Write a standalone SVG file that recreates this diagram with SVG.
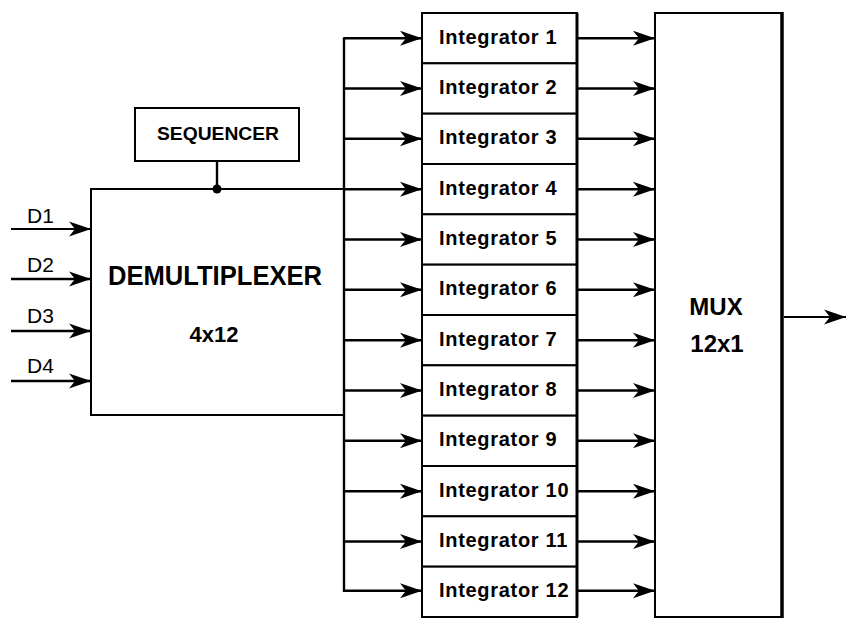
<svg xmlns="http://www.w3.org/2000/svg" width="847" height="619" viewBox="0 0 847 619">
<style>
.box{fill:#fff;stroke:#000;stroke-width:2}
.ln{fill:none;stroke:#000;stroke-width:2.4}
.lbl{font-family:"Liberation Sans",Arial,sans-serif;font-weight:bold;font-size:20px;letter-spacing:0.7px;fill:#000}
.d{font-family:"Liberation Sans",Arial,sans-serif;font-size:21px;fill:#000}
.big{font-family:"Liberation Sans",Arial,sans-serif;font-weight:bold;fill:#000;text-anchor:middle}
</style>
<defs>
<marker id="ah" markerUnits="userSpaceOnUse" markerWidth="23" markerHeight="16" refX="22" refY="8" orient="auto" viewBox="0 0 23 16">
<path d="M22,8 L0,0.5 L6,8 L0,15.5 Z" fill="#000"/>
</marker>
</defs>
<rect width="847" height="619" fill="#fff"/>

<g id="inputs-labels">
<text class="d" x="27" y="223">D1</text>
<text class="d" x="27" y="272">D2</text>
<text class="d" x="27" y="323">D3</text>
<text class="d" x="27" y="373">D4</text>
</g>

<g id="sequencer">
<rect class="box" x="135" y="108" width="164" height="53"/>
<text class="big" x="218" y="140" font-size="19" textLength="122" lengthAdjust="spacingAndGlyphs">SEQUENCER</text>
</g>

<g id="demux">
<rect class="box" x="91" y="189" width="253" height="226"/>
<text class="big" x="215" y="285" font-size="27" textLength="214" lengthAdjust="spacingAndGlyphs">DEMULTIPLEXER</text>
<text class="big" x="214" y="342" font-size="22">4x12</text>
</g>

<g id="integrator-1"><rect class="box" x="422" y="13" width="155" height="50.33"/><text class="lbl" x="439" y="43.7">Integrator 1</text></g>
<g id="integrator-2"><rect class="box" x="422" y="63.33" width="155" height="50.33"/><text class="lbl" x="439" y="94">Integrator 2</text></g>
<g id="integrator-3"><rect class="box" x="422" y="113.67" width="155" height="50.33"/><text class="lbl" x="439" y="144.3">Integrator 3</text></g>
<g id="integrator-4"><rect class="box" x="422" y="164" width="155" height="50.33"/><text class="lbl" x="439" y="194.7">Integrator 4</text></g>
<g id="integrator-5"><rect class="box" x="422" y="214.33" width="155" height="50.33"/><text class="lbl" x="439" y="245">Integrator 5</text></g>
<g id="integrator-6"><rect class="box" x="422" y="264.67" width="155" height="50.33"/><text class="lbl" x="439" y="295.3">Integrator 6</text></g>
<g id="integrator-7"><rect class="box" x="422" y="315" width="155" height="50.33"/><text class="lbl" x="439" y="345.7">Integrator 7</text></g>
<g id="integrator-8"><rect class="box" x="422" y="365.33" width="155" height="50.33"/><text class="lbl" x="439" y="396">Integrator 8</text></g>
<g id="integrator-9"><rect class="box" x="422" y="415.67" width="155" height="50.33"/><text class="lbl" x="439" y="446.3">Integrator 9</text></g>
<g id="integrator-10"><rect class="box" x="422" y="466" width="155" height="50.33"/><text class="lbl" x="439" y="496.7">Integrator 10</text></g>
<g id="integrator-11"><rect class="box" x="422" y="516.33" width="155" height="50.33"/><text class="lbl" x="439" y="547">Integrator 11</text></g>
<g id="integrator-12"><rect class="box" x="422" y="566.67" width="155" height="50.33"/><text class="lbl" x="439" y="597.3">Integrator 12</text></g>
<line x1="577" y1="13" x2="577" y2="617" stroke="#000" stroke-width="3"/>

<g id="mux">
<rect class="box" x="655" y="13" width="127" height="604"/>
<line x1="782" y1="12" x2="782" y2="618" stroke="#000" stroke-width="3.5"/>
<text class="big" x="716" y="315" font-size="24">MUX</text>
<text class="big" x="717" y="352" font-size="24">12x1</text>
</g>

<g id="connectors">
<line class="ln" x1="11" y1="229" x2="91" y2="229" marker-end="url(#ah)" style="stroke-width:1.8"/>
<line class="ln" x1="11" y1="279" x2="91" y2="279" marker-end="url(#ah)"/>
<line class="ln" x1="11" y1="331" x2="91" y2="331" marker-end="url(#ah)"/>
<line class="ln" x1="11" y1="381" x2="91" y2="381" marker-end="url(#ah)"/>
<line class="ln" x1="217" y1="161" x2="217" y2="189"/>
<circle cx="217" cy="189" r="4.5" fill="#000"/>
<line class="ln" x1="344" y1="37.2" x2="344" y2="591.8"/>
<line class="ln" x1="344" y1="38.2" x2="422" y2="38.2" marker-end="url(#ah)"/>
<line class="ln" x1="344" y1="88.5" x2="422" y2="88.5" marker-end="url(#ah)"/>
<line class="ln" x1="344" y1="138.8" x2="422" y2="138.8" marker-end="url(#ah)"/>
<line class="ln" x1="344" y1="189.2" x2="422" y2="189.2" marker-end="url(#ah)"/>
<line class="ln" x1="344" y1="239.5" x2="422" y2="239.5" marker-end="url(#ah)"/>
<line class="ln" x1="344" y1="289.8" x2="422" y2="289.8" marker-end="url(#ah)"/>
<line class="ln" x1="344" y1="340.2" x2="422" y2="340.2" marker-end="url(#ah)"/>
<line class="ln" x1="344" y1="390.5" x2="422" y2="390.5" marker-end="url(#ah)"/>
<line class="ln" x1="344" y1="440.8" x2="422" y2="440.8" marker-end="url(#ah)"/>
<line class="ln" x1="344" y1="491.2" x2="422" y2="491.2" marker-end="url(#ah)"/>
<line class="ln" x1="344" y1="541.5" x2="422" y2="541.5" marker-end="url(#ah)"/>
<line class="ln" x1="343" y1="590.8" x2="422" y2="590.8" marker-end="url(#ah)"/>
<line class="ln" x1="577" y1="38.2" x2="655" y2="38.2" marker-end="url(#ah)"/>
<line class="ln" x1="577" y1="88.5" x2="655" y2="88.5" marker-end="url(#ah)"/>
<line class="ln" x1="577" y1="138.8" x2="655" y2="138.8" marker-end="url(#ah)"/>
<line class="ln" x1="577" y1="189.2" x2="655" y2="189.2" marker-end="url(#ah)"/>
<line class="ln" x1="577" y1="239.5" x2="655" y2="239.5" marker-end="url(#ah)"/>
<line class="ln" x1="577" y1="289.8" x2="655" y2="289.8" marker-end="url(#ah)"/>
<line class="ln" x1="577" y1="340.2" x2="655" y2="340.2" marker-end="url(#ah)"/>
<line class="ln" x1="577" y1="390.5" x2="655" y2="390.5" marker-end="url(#ah)"/>
<line class="ln" x1="577" y1="440.8" x2="655" y2="440.8" marker-end="url(#ah)"/>
<line class="ln" x1="577" y1="491.2" x2="655" y2="491.2" marker-end="url(#ah)"/>
<line class="ln" x1="577" y1="541.5" x2="655" y2="541.5" marker-end="url(#ah)"/>
<line class="ln" x1="577" y1="590.8" x2="655" y2="590.8" marker-end="url(#ah)"/>
<line class="ln" x1="784" y1="317" x2="846" y2="317" marker-end="url(#ah)" style="stroke-width:1.8"/>
</g>
</svg>
